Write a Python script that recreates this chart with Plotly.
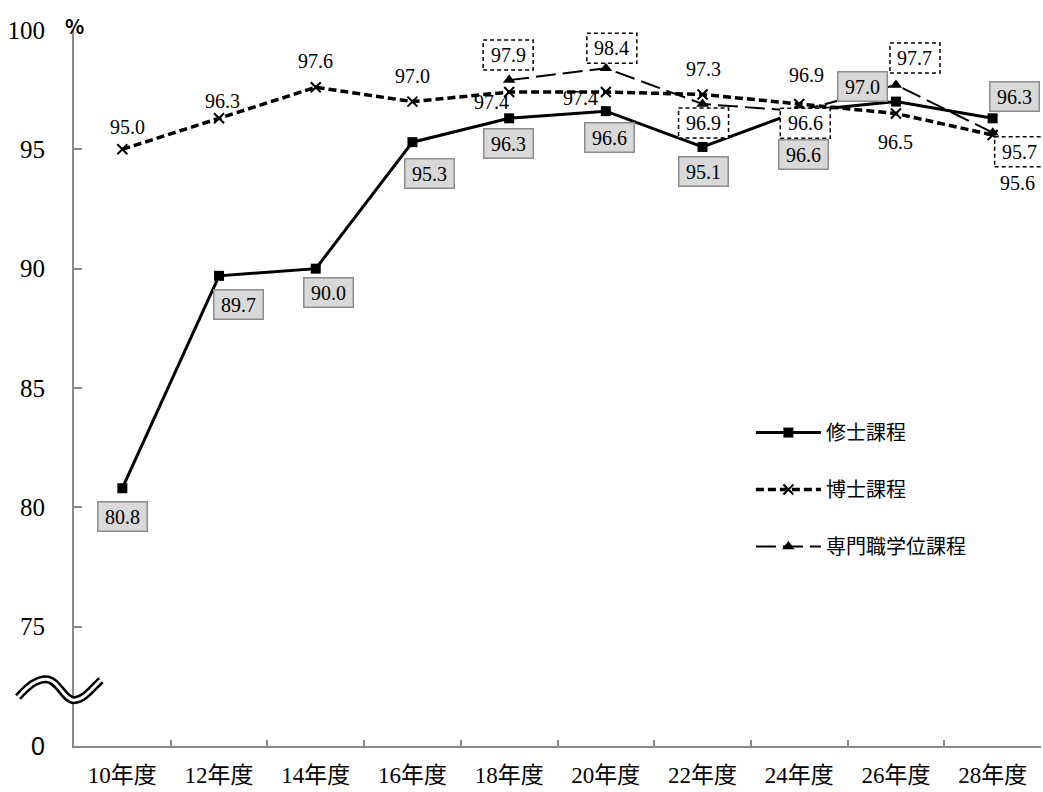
import plotly.graph_objects as go

# ---------------- data ----------------
years = ["10年度", "12年度", "14年度", "16年度", "18年度",
         "20年度", "22年度", "24年度", "26年度", "28年度"]
master = [80.8, 89.7, 90.0, 95.3, 96.3, 96.6, 95.1, 96.6, 97.0, 96.3]
doctor = [95.0, 96.3, 97.6, 97.0, 97.4, 97.4, 97.3, 96.9, 96.5, 95.6]
prof_years = ["18年度", "20年度", "22年度", "24年度", "26年度", "28年度"]
prof = [97.9, 98.4, 96.9, 96.6, 97.7, 95.7]

series_names = ["修士課程", "博士課程", "専門職学位課程"]
y_tickvals = [70, 75, 80, 85, 90, 95, 100]
y_ticktext = ["<span style='font-family:Liberation Sans, Arial'>0</span>",
              "75", "80", "85", "90", "95", "100"]

# ---------------- label offsets (px, +x right, +y down) ----------------
master_off = [(0, 28), (19, 29), (13, 24), (17, 31), (-1, 25),
              (4, 26), (1, 25), (4, 43), (-33, -15), (22, -22)]
doctor_off = [(5, -22), (3, -17), (0, -26), (0, -26), (-18, 10),
              (-25, 6), (1, -25), (7, -29), (0, 28), (25, 48)]
prof_off = [(-1, -25), (6, -20), (1, 19), (6, 12), (19, -27), (27, 19)]

SERIF = "Liberation Serif, Noto Sans CJK JP, serif"
SANS = "Noto Sans CJK JP, Liberation Sans, sans-serif"
AXIS = "#8a8a8a"

fig = go.Figure()

fig.add_trace(go.Scatter(
    x=years, y=master, name=series_names[0], mode="lines+markers",
    line=dict(color="black", width=3),
    marker=dict(symbol="square", size=10, color="black"),
    legendgroup="a"))
fig.add_trace(go.Scatter(
    x=years, y=doctor, name=series_names[1], mode="lines+markers",
    line=dict(color="black", width=3.5, dash="8px,4px"),
    marker=dict(symbol="x-thin", size=10, color="black",
                line=dict(width=2, color="black")),
    legendgroup="b"))
fig.add_trace(go.Scatter(
    x=prof_years, y=prof, name=series_names[2], mode="lines+markers",
    line=dict(color="black", width=2, dash="20px,7px"),
    marker=dict(symbol="triangle-up", size=11, color="black"),
    legendgroup="c"))

annotations = []
shapes = []
font_lbl = dict(family=SERIF, size=20, color="black")

for xv, yv, (dx, dy) in zip(years, master, master_off):
    annotations.append(dict(
        x=xv, y=yv, xref="x", yref="y", text=f"{yv:.1f}", showarrow=False,
        xshift=dx, yshift=-dy, font=font_lbl,
        bgcolor="#d9d9d9", bordercolor="#8c8c8c", borderwidth=1.5,
        borderpad=2, width=44, height=24))

for xv, yv, (dx, dy) in zip(years, doctor, doctor_off):
    annotations.append(dict(
        x=xv, y=yv, xref="x", yref="y", text=f"{yv:.1f}", showarrow=False,
        xshift=dx, yshift=-dy, font=font_lbl))

for xv, yv, (dx, dy) in zip(prof_years, prof, prof_off):
    shapes.append(dict(
        type="rect", xref="x", yref="y", xsizemode="pixel", ysizemode="pixel",
        xanchor=xv, yanchor=yv, x0=dx - 25, x1=dx + 25, y0=-dy - 15, y1=-dy + 15,
        line=dict(color="black", width=1.5, dash="4px,3px"),
        fillcolor="white", layer="above"))
    annotations.append(dict(
        x=xv, y=yv, xref="x", yref="y", text=f"{yv:.1f}", showarrow=False,
        xshift=dx, yshift=-dy, font=font_lbl))

# "%" unit label
annotations.append(dict(
    x=0, y=1, xref="paper", yref="paper", text="<b>%</b>", showarrow=False,
    xanchor="center", yanchor="middle", yshift=5,
    font=dict(family=SANS, size=20, color="black")))

# axis break symbol (double wavy line)
wave = "M-56,-7 C-46,4 -38,11 -28,11 C-16,11 -10,-10 0,-10 C10,-10 18,2 27,10"
for w, c in ((8, "black"), (3, "white")):
    shapes.append(dict(
        type="path", xref="paper", yref="paper", xsizemode="pixel",
        ysizemode="pixel", xanchor=0, yanchor=0.078, path=wave,
        line=dict(color=c, width=w), layer="above"))

fig.update_layout(
    width=1043, height=792,
    margin=dict(l=74, r=2, t=30, b=46),
    plot_bgcolor="white", paper_bgcolor="white",
    showlegend=True,
    legend=dict(x=0.70, y=0.465, xanchor="left", yanchor="top",
                font=dict(family=SANS, size=20, color="black"),
                itemwidth=65,
                tracegroupgap=28, bgcolor="rgba(0,0,0,0)"),
    annotations=annotations, shapes=shapes,
)
fig.update_xaxes(
    type="category", categoryorder="array", categoryarray=years,
    range=[-0.5, 9.5], showline=True, linecolor=AXIS, linewidth=2,
    ticks="inside", tickson="boundaries", ticklen=6, tickwidth=2,
    tickcolor=AXIS, showgrid=False, zeroline=False,
    tickfont=dict(family=SERIF, size=23, color="black"),
    ticklabelstandoff=7)
fig.update_yaxes(
    range=[70, 100], tickvals=y_tickvals, ticktext=y_ticktext,
    showline=True, linecolor=AXIS, linewidth=2,
    ticks="inside", ticklen=8, tickwidth=2, tickcolor=AXIS,
    showgrid=False, zeroline=False,
    tickfont=dict(family=SERIF, size=25, color="black"),
    ticklabelstandoff=22)

fig.write_html(
    "out.html",
    config={"displayModeBar": False},
    post_script="document.body.style.margin='0';document.body.style.padding='0';")
